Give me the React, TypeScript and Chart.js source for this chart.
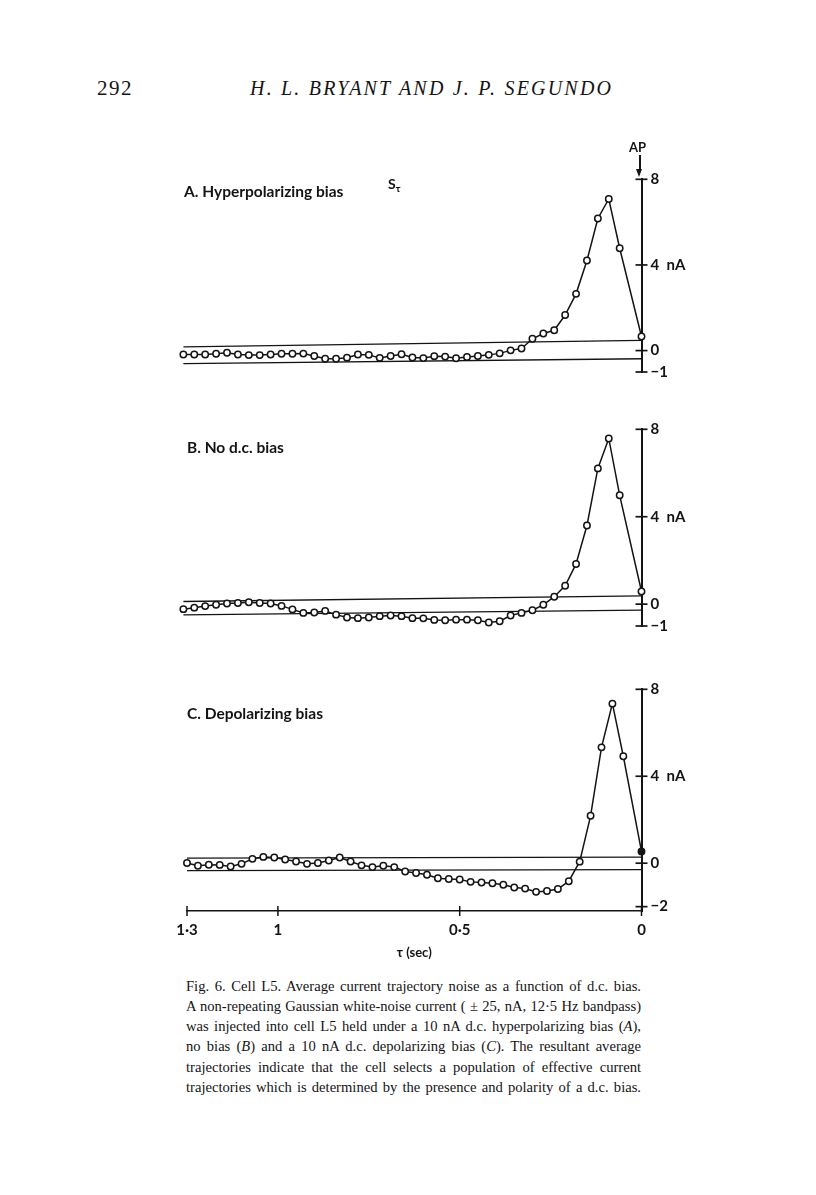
import React, { useEffect, useRef } from "react";
import { Chart, registerables } from "chart.js";

Chart.register(...registerables);

const INK = "#141414";

// τ (sec) of each averaged sample
const tauAB = [
  1.26, 1.23, 1.2, 1.17, 1.14, 1.11, 1.08, 1.05, 1.02, 0.99, 0.96, 0.93, 0.9, 0.87,
  0.84, 0.81, 0.78, 0.75, 0.72, 0.69, 0.66, 0.63, 0.6, 0.57, 0.54, 0.51, 0.48, 0.45,
  0.42, 0.39, 0.36, 0.33, 0.3, 0.27, 0.24, 0.21, 0.18, 0.15, 0.12, 0.09, 0.06, 0,
];
const tauC = [
  1.25, 1.22, 1.19, 1.16, 1.13, 1.1, 1.07, 1.04, 1.01, 0.98, 0.95, 0.92, 0.89, 0.86,
  0.83, 0.8, 0.77, 0.74, 0.71, 0.68, 0.65, 0.62, 0.59, 0.56, 0.53, 0.5, 0.47, 0.44,
  0.41, 0.38, 0.35, 0.32, 0.29, 0.26, 0.23, 0.2, 0.17, 0.14, 0.11, 0.08, 0.05, 0,
];

// Average current trajectories (nA)
const hyperpolarizing = [
  -0.18, -0.18, -0.18, -0.15, -0.1, -0.18, -0.21, -0.21, -0.18, -0.15, -0.15, -0.14,
  -0.25, -0.38, -0.38, -0.33, -0.18, -0.2, -0.34, -0.25, -0.17, -0.32, -0.35, -0.26,
  -0.28, -0.36, -0.3, -0.25, -0.2, -0.13, 0.01, 0.1, 0.55, 0.8, 0.95, 1.66, 2.65,
  4.21, 6.17, 7.08, 4.78, 0.66,
];
const noBias = [
  -0.23, -0.16, -0.09, -0.03, 0.03, 0.05, 0.09, 0.05, 0.03, -0.08, -0.24, -0.4, -0.38,
  -0.31, -0.48, -0.61, -0.64, -0.61, -0.55, -0.52, -0.55, -0.64, -0.65, -0.72, -0.74,
  -0.71, -0.71, -0.74, -0.84, -0.78, -0.52, -0.4, -0.28, -0.03, 0.34, 0.84, 1.84, 3.6,
  6.21, 7.58, 4.98, 0.58,
];
const depolarizing = [
  0.01, -0.12, -0.07, -0.08, -0.15, -0.03, 0.2, 0.29, 0.26, 0.17, 0.08, -0.03, 0.01,
  0.12, 0.26, 0.08, -0.1, -0.18, -0.12, -0.18, -0.38, -0.45, -0.53, -0.69, -0.73,
  -0.75, -0.86, -0.89, -0.92, -0.99, -1.12, -1.17, -1.32, -1.28, -1.19, -0.83, 0.07,
  2.18, 5.33, 7.34, 4.92, 0.54,
];

// Confidence band lines: value at left end, value at right end
const bandTauAB = [1.26, 0];
const bandTauC = [1.25, 0];
const bandUpperA = [0.17, 0.48];
const bandLowerA = [-0.61, -0.38];
const bandUpperB = [0.12, 0.38];
const bandLowerB = [-0.49, -0.27];
const bandUpperC = [0.23, 0.28];
const bandLowerC = [-0.34, -0.3];

// Axis ticks
const yTicksAB = [-1, 0, 4, 8];
const yTickLabelsAB = ["\u22121", "0", "4  nA", "8"];
const yTicksC = [-2, 0, 4, 8];
const yTickLabelsC = ["\u22122", "0", "4  nA", "8"];
const xTicks = [1.25, 1, 0.5, 0];
const xTickLabels = ["1\u00b73", "1", "0\u00b75", "0"];

const AXIS_FONT = { family: "Lato", size: 15, weight: "bold" as const };

const crossTicks = {
  id: "crossTicks",
  afterDraw(chart: any) {
    const { ctx, chartArea } = chart;
    const ys = chart.scales.y;
    const xs = chart.scales.x;
    ctx.save();
    ctx.strokeStyle = INK;
    ctx.lineWidth = 1.7;
    ys.ticks.forEach((t: any) => {
      const py = ys.getPixelForValue(t.value);
      ctx.beginPath();
      ctx.moveTo(chartArea.right - 6, py);
      ctx.lineTo(chartArea.right + 6, py);
      ctx.stroke();
    });
    if (xs.options.display) {
      ctx.lineWidth = 1.5;
      xs.ticks.forEach((t: any) => {
        const px = xs.getPixelForValue(t.value);
        ctx.beginPath();
        ctx.moveTo(px, chartArea.bottom - 5);
        ctx.lineTo(px, chartArea.bottom + 5);
        ctx.stroke();
      });
    }
    ctx.restore();
  },
};

type PanelProps = {
  top: number;
  height: number;
  padTop: number;
  padBottom: number;
  tau: number[];
  values: number[];
  bandTau: number[];
  upper: number[];
  lower: number[];
  yMin: number;
  yTicks: number[];
  yLabels: string[];
  showX: boolean;
  lastFilled: boolean;
};

function Panel(p: PanelProps) {
  const ref = useRef<HTMLCanvasElement | null>(null);
  useEffect(() => {
    if (!ref.current) return;
    const pts = p.tau.map((t, i) => ({ x: t, y: p.values[i] }));
    const up = p.bandTau.map((t, i) => ({ x: t, y: p.upper[i] }));
    const lo = p.bandTau.map((t, i) => ({ x: t, y: p.lower[i] }));
    const chart = new Chart(ref.current, {
      type: "line",
      data: {
        datasets: [
          {
            data: pts,
            borderColor: INK,
            borderWidth: 1.5,
            pointRadius: 3.2,
            pointBorderWidth: 1.5,
            pointBorderColor: INK,
            pointBackgroundColor: pts.map((_, i) =>
              p.lastFilled && i === pts.length - 1 ? INK : "#ffffff"
            ),
            tension: 0,
            clip: false,
          } as any,
          { data: up, borderColor: INK, borderWidth: 1.3, pointRadius: 0, clip: false } as any,
          { data: lo, borderColor: INK, borderWidth: 1.3, pointRadius: 0, clip: false } as any,
        ],
      },
      options: {
        animation: false,
        responsive: false,
        maintainAspectRatio: false,
        events: [],
        layout: { padding: { left: 187, right: 114.5, top: p.padTop, bottom: p.padBottom } },
        plugins: { legend: { display: false }, tooltip: { enabled: false }, title: { display: false } },
        scales: {
          x: {
            type: "linear",
            reverse: true,
            min: 0,
            max: 1.25,
            display: p.showX,
            position: "bottom",
            border: { display: true, color: INK, width: 1.6 },
            grid: { display: false, drawOnChartArea: false, drawTicks: false },
            afterBuildTicks: (s: any) => {
              s.ticks = xTicks.map((v) => ({ value: v }));
            },
            afterFit: (s: any) => {
              s.height = p.showX ? 50 : 0;
            },
            ticks: {
              autoSkip: false,
              maxRotation: 0,
              padding: 10,
              color: INK,
              font: AXIS_FONT,
              callback: (_v: any, i: number) => xTickLabels[i],
            },
            title: {
              display: true,
              text: "\u03c4 (sec)",
              color: INK,
              font: { family: "Lato", size: 13, weight: "bold" },
              padding: { top: 0, bottom: 0 },
            },
          },
          y: {
            type: "linear",
            position: "right",
            min: p.yMin,
            max: 8,
            border: { display: true, color: INK, width: 2 },
            grid: { display: false, drawOnChartArea: false, drawTicks: false },
            afterBuildTicks: (s: any) => {
              s.ticks = p.yTicks.map((v) => ({ value: v }));
            },
            afterFit: (s: any) => {
              s.width = 60;
            },
            ticks: {
              padding: 9,
              color: INK,
              font: AXIS_FONT,
              callback: (_v: any, i: number) => p.yLabels[i],
            },
          },
        },
      },
      plugins: [crossTicks],
    });
    return () => chart.destroy();
  }, []);
  return (
    <canvas
      ref={ref}
      width={816}
      height={p.height}
      style={{ position: "absolute", left: 0, top: p.top, width: 816, height: p.height }}
    />
  );
}

function Label(props: {
  x: number;
  y: number;
  size: number;
  family?: string;
  weight?: any;
  italic?: boolean;
  spacing?: number;
  children: React.ReactNode;
}) {
  return (
    <div
      style={{
        position: "absolute",
        left: props.x,
        top: props.y,
        transform: "translateY(-50%)",
        lineHeight: 1,
        fontSize: props.size,
        fontFamily: props.family || "Lato",
        fontWeight: props.weight ?? "bold",
        fontStyle: props.italic ? "italic" : "normal",
        letterSpacing: props.spacing ?? 0,
        whiteSpace: "nowrap",
        color: INK,
      }}
    >
      {props.children}
    </div>
  );
}

const captionLines: React.ReactNode[] = [
  "Fig. 6. Cell L5. Average current trajectory noise as a function of d.c. bias.",
  "A non-repeating Gaussian white-noise current ( \u00b1 25, nA, 12\u00b75 Hz bandpass)",
  <>
    was injected into cell L5 held under a 10 nA d.c. hyperpolarizing bias (<i>A</i>),
  </>,
  <>
    no bias (<i>B</i>) and a 10 nA d.c. depolarizing bias (<i>C</i>). The resultant average
  </>,
  "trajectories indicate that the cell selects a population of effective current",
  "trajectories which is determined by the presence and polarity of a d.c. bias.",
];
const captionY = [986, 1006, 1026, 1046, 1067, 1087];

export default function App() {
  return (
    <div
      style={{
        position: "absolute",
        left: 0,
        top: 0,
        width: 816,
        height: 1195,
        background: "#fff",
        overflow: "hidden",
      }}
    >
      <Label x={97} y={88} size={21} family="Liberation Serif" weight="normal" spacing={1.5}>
        292
      </Label>
      <Label x={250} y={88} size={20} family="Liberation Serif" weight="normal" italic spacing={2.2}>
        H. L. BRYANT AND J. P. SEGUNDO
      </Label>

      <Panel
        top={130}
        height={260}
        padTop={49.3}
        padBottom={16.7}
        tau={tauAB}
        values={hyperpolarizing}
        bandTau={bandTauAB}
        upper={bandUpperA}
        lower={bandLowerA}
        yMin={-1}
        yTicks={yTicksAB}
        yLabels={yTickLabelsAB}
        showX={false}
        lastFilled={false}
      />
      <Panel
        top={400}
        height={245}
        padTop={29.3}
        padBottom={19}
        tau={tauAB}
        values={noBias}
        bandTau={bandTauAB}
        upper={bandUpperB}
        lower={bandLowerB}
        yMin={-1}
        yTicks={yTicksAB}
        yLabels={yTickLabelsAB}
        showX={false}
        lastFilled={false}
      />
      <Panel
        top={660}
        height={310}
        padTop={29.3}
        padBottom={9}
        tau={tauC}
        values={depolarizing}
        bandTau={bandTauC}
        upper={bandUpperC}
        lower={bandLowerC}
        yMin={-2.2}
        yTicks={yTicksC}
        yLabels={yTickLabelsC}
        showX={true}
        lastFilled={true}
      />

      <Label x={184} y={192} size={15.5}>
        A. Hyperpolarizing bias
      </Label>
      <Label x={187} y={447.5} size={15.5}>
        B. No d.c. bias
      </Label>
      <Label x={187} y={713.5} size={15.5}>
        C. Depolarizing bias
      </Label>
      <Label x={388} y={184} size={14}>
        S<span style={{ fontSize: 10, position: "relative", top: 3 }}>{"\u03c4"}</span>
      </Label>
      <Label x={629} y={147} size={13}>
        AP
      </Label>
      <div style={{ position: "absolute", left: 639, top: 155, width: 1.7, height: 16, background: INK }} />
      <div
        style={{
          position: "absolute",
          left: 636.3,
          top: 169,
          width: 0,
          height: 0,
          borderLeft: "3.6px solid transparent",
          borderRight: "3.6px solid transparent",
          borderTop: "8px solid " + INK,
        }}
      />

      {captionLines.map((line, i) => (
        <div
          key={i}
          style={{
            position: "absolute",
            left: 186,
            width: 455,
            top: captionY[i],
            transform: "translateY(-50%)",
            lineHeight: 1,
            fontFamily: "Liberation Serif",
            fontSize: 14.6,
            textAlign: "justify",
            textAlignLast: "justify",
            whiteSpace: "nowrap",
            color: INK,
          }}
        >
          {line}
        </div>
      ))}
    </div>
  );
}
